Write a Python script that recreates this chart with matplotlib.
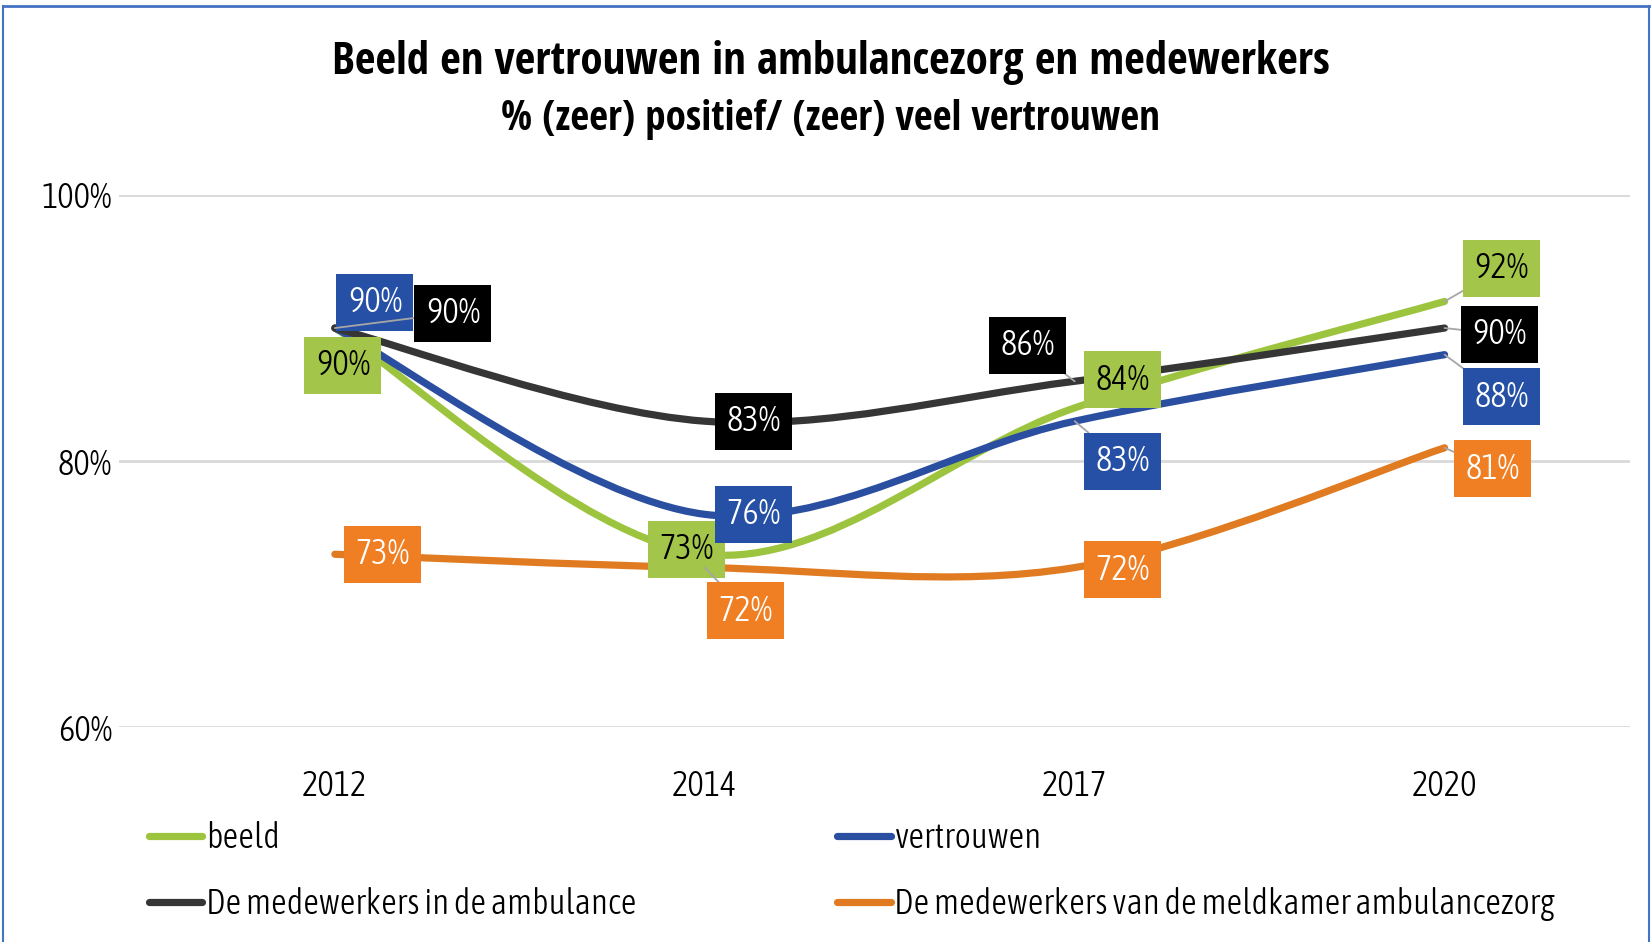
import numpy as np
import matplotlib
matplotlib.use("Agg")
import matplotlib.pyplot as plt
from matplotlib.path import Path
from matplotlib.patches import PathPatch
from matplotlib.lines import Line2D

plt.rcParams['font.family'] = ['Asap Condensed', 'DejaVu Sans']
plt.rcParams['font.weight'] = 300
title_font = ['Open Sans Condensed', 'DejaVu Sans']

# data
years = ['2012', '2014', '2017', '2020']
beeld = [0.90, 0.73, 0.84, 0.92]
vertrouwen = [0.90, 0.76, 0.83, 0.88]
ambulance = [0.90, 0.83, 0.86, 0.90]
meldkamer = [0.73, 0.72, 0.72, 0.81]
names = ['beeld', 'vertrouwen', 'De medewerkers in de ambulance',
         'De medewerkers van de meldkamer ambulancezorg']

line_colors = ['#9DC43F', '#2A4EA0', '#363636', '#E07B21']
box_colors = ['#A3C54A', '#2550A5', '#000000', '#F07E22']
text_colors = ['black', 'white', 'white', 'white']

# label offsets in pixels (dx, dy) and whether a leader line is drawn
label_pos = [
    [(8, -37, False), (-18, 5, False), (48, 28, False), (57, 33, True)],
    [(40, 26, False), (49, 0, False), (48, -40, True), (57, -42, True)],
    [(118, 15, True), (49, 0, False), (-47, 36, True), (55, -6, True)],
    [(48, 0, False), (41, -43, True), (48, -2, False), (48, -21, True)],
]


def smooth_path(x, y):
    # excel-like smoothed line as cubic bezier segments
    pts = np.column_stack([x, y]).astype(float)
    n = len(pts)
    verts = [pts[0]]
    codes = [Path.MOVETO]
    for i in range(n - 1):
        p0 = pts[i - 1] if i > 0 else pts[i]
        p1 = pts[i]
        p2 = pts[i + 1]
        p3 = pts[i + 2] if i + 2 < n else pts[i + 1]
        verts += [p1 + (p2 - p0) / 6, p2 - (p3 - p1) / 6, p2]
        codes += [Path.CURVE4] * 3
    return Path(verts, codes)


fig = plt.figure(figsize=(16.51, 9.42), dpi=100)
ax = fig.add_axes([0.072, 0.228, 0.915, 0.565])

x = np.arange(len(years))
series = [beeld, vertrouwen, ambulance, meldkamer]

for s, col in zip(series, line_colors):
    ax.add_patch(PathPatch(smooth_path(x, s), fill=False, edgecolor=col, lw=5.2,
                           capstyle='round', joinstyle='round', zorder=2))

for k, s in enumerate(series):
    for i, v in enumerate(s):
        dx, dy, leader = label_pos[k][i]
        arrow = None
        if leader:
            arrow = dict(arrowstyle='-', color='#A6A6A6', lw=1.3, shrinkA=0, shrinkB=0)
        ax.annotate(f"{v*100:.0f}%", (i, v), xytext=(dx, dy), textcoords='offset pixels',
                    ha='center', va='center', fontsize=25, color=text_colors[k],
                    bbox=dict(boxstyle='square,pad=0.33', fc=box_colors[k], ec='none'),
                    arrowprops=arrow, zorder=5)

ax.set_xlim(-0.584, 3.5)
ax.set_ylim(0.6, 1.0)
ax.set_xticks(x)
ax.set_xticklabels(years, fontsize=25)
ax.set_yticks([0.6, 0.8, 1.0])
ax.set_yticklabels(['60%', '80%', '100%'], fontsize=25)
ax.tick_params(length=0)
ax.tick_params(axis='x', pad=30)
ax.tick_params(axis='y', pad=5)
ax.grid(axis='y', color='#D9D9D9', lw=2)
ax.set_axisbelow(True)
for sp in ax.spines.values():
    sp.set_visible(False)

fig.text(0.503, 0.934, 'Beeld en vertrouwen in ambulancezorg en medewerkers',
         ha='center', va='center', fontsize=32.3, fontweight='bold', family=title_font)
fig.text(0.503, 0.873, '% (zeer) positief/ (zeer) veel vertrouwen',
         ha='center', va='center', fontsize=29.5, fontweight='bold', family=title_font)

# legend, two columns placed separately
handles = [Line2D([], [], color=c, lw=5.2, solid_capstyle='round') for c in line_colors]
fig.legend([handles[0], handles[2]], [names[0], names[2]], loc='upper left',
           bbox_to_anchor=(0.090, 0.128), frameon=False, fontsize=25,
           handlelength=1.55, handletextpad=0.1, labelspacing=0.92,
           borderpad=0, borderaxespad=0)
fig.legend([handles[1], handles[3]], [names[1], names[3]], loc='upper left',
           bbox_to_anchor=(0.507, 0.128), frameon=False, fontsize=25,
           handlelength=1.55, handletextpad=0.1, labelspacing=0.92,
           borderpad=0, borderaxespad=0)

# blue frame
fig.add_artist(Line2D([0.002, 0.002], [0, 0.994], color='#4472C4', lw=1.5))
fig.add_artist(Line2D([0.999, 0.999], [0, 0.994], color='#4472C4', lw=1.5))
fig.add_artist(Line2D([0.002, 0.999], [0.994, 0.994], color='#4472C4', lw=2))

fig.savefig('out.png', dpi=100)
